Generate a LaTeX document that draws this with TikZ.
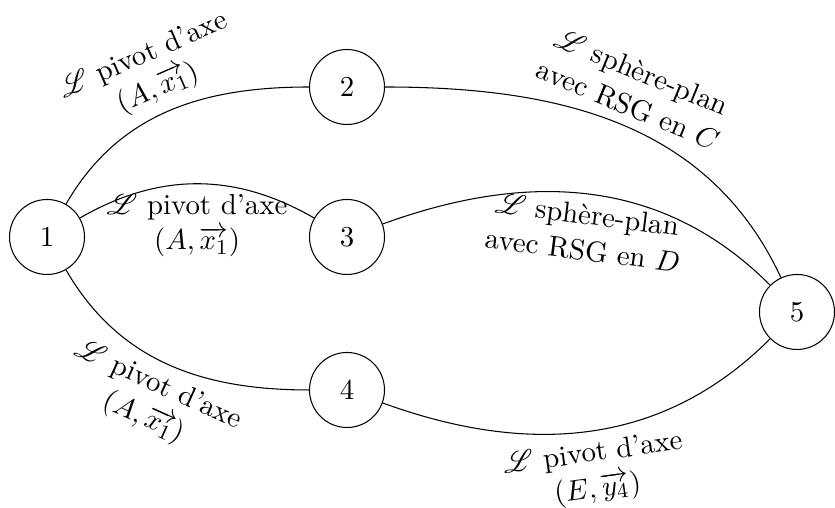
\documentclass[11pt,tikz,border=0pt]{standalone}
\usepackage{amsmath}
\usepackage{mathrsfs}
\usepackage{tikz}

\begin{document}
\begin{tikzpicture}[
        solide/.style = {draw, circle, minimum size = 1cm},
        liaison/.style = {sloped, align = center}
    ]
                \useasboundingbox (-0.627, -3.613) rectangle (10.507, 3.16);

                \node[solide] (S1) at (0, 0) {1};
                \node[solide] (S2) at (4, 2) {2};
                \node[solide] (S3) at (4, 0) {3};
                \node[solide] (S4) at (4, -2.04) {4};
                \node[solide] (S5) at (10, -1) {5};

                \draw
                (S1) to[out = 60, in = 180] node[liaison, above]{$\mathscr{L}$ pivot d'axe\\$(A,\overrightarrow{x_1})$} (S2)
                (S1) to[out = 30, in = 150] node[liaison, below]{$\mathscr{L}$ pivot d'axe\\$(A,\overrightarrow{x_1})$} (S3)
                (S1) to[out = -60, in = 180] node[liaison, below]{$\mathscr{L}$ pivot d'axe\\$(A,\overrightarrow{x_1})$} (S4)

                (S2) to[out = 0, in = 115] node[liaison, above]{$\mathscr{L}$ sphère-plan\\avec RSG en $C$} (S5)
                (S3) to[out = 20, in = 135] node[liaison, below]{$\mathscr{L}$ sphère-plan\\avec RSG en $D$} (S5)
                (S4) to[out = -20, in = -135] node[liaison, below]{$\mathscr{L}$ pivot d'axe\\$(E,\overrightarrow{y_4})$} (S5)
                ;
            \end{tikzpicture}
\end{document}
